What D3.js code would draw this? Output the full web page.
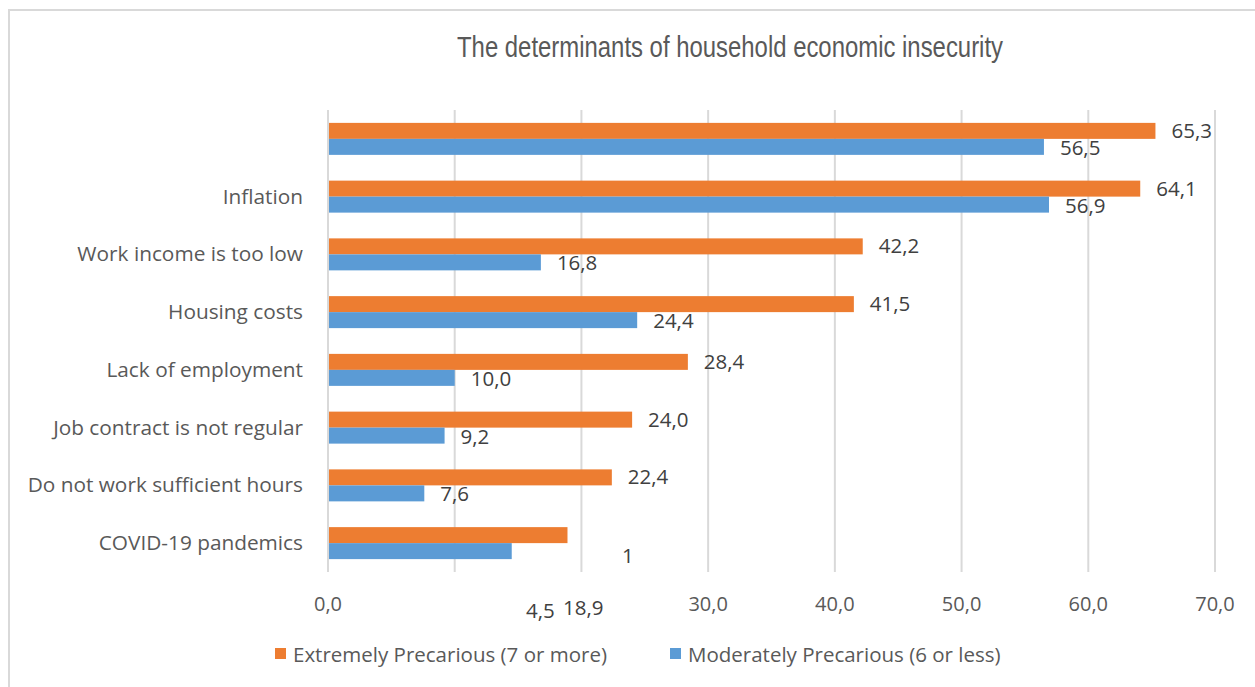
<!DOCTYPE html>
<html>
<head>
<meta charset="utf-8">
<script src="https://cdn.jsdelivr.net/npm/d3@7"></script>
<style>
  html, body { margin: 0; padding: 0; background: #fff; }
  svg { display: block; }
</style>
</head>
<body>
<svg id="chart" width="1255" height="687"></svg>
<script>
// Categories, top to bottom (first row has no label)
const categories = ["", "Inflation", "Work income is too low", "Housing costs",
  "Lack of employment", "Job contract is not regular",
  "Do not work sufficient hours", "COVID-19 pandemics"];
// Share of households (%) naming each determinant
const extremely = [65.3, 64.1, 42.2, 41.5, 28.4, 24.0, 22.4, 18.9];
const moderately = [56.5, 56.9, 16.8, 24.4, 10.0, 9.2, 7.6, 14.5];
const seriesNames = ["Extremely Precarious (7 or more)", "Moderately Precarious (6 or less)"];
const tickValues = [0, 10, 20, 30, 40, 50, 60, 70];
const tickLabels = ["0,0", "", "", "30,0", "40,0", "50,0", "60,0", "70,0"];
const title = "The determinants of household economic insecurity";

const colors = { ext: "#ED7D31", mod: "#5B9BD5" };
const svg = d3.select("#chart");
const W = 1255, H = 687;
const margin = { left: 328, right: 40, top: 110, bottom: 115 };

const fmt = v => d3.format(".1f")(v).replace(".", ",");
const font = "'Open Sans', 'Noto Sans', sans-serif";

// outer frame
svg.append("rect")
  .attr("x", 9).attr("y", 10).attr("width", W).attr("height", H)
  .attr("fill", "none").attr("stroke", "#d9d9d9").attr("stroke-width", 2);

// title
svg.append("text")
  .attr("x", 730).attr("y", 57)
  .attr("text-anchor", "middle")
  .attr("font-family", "'Liberation Sans Narrow', 'Liberation Sans', Arial, sans-serif")
  .attr("font-size", 29)
  .attr("fill", "#595959")
  .attr("textLength", 546).attr("lengthAdjust", "spacingAndGlyphs")
  .text(title);

const x = d3.scaleLinear().domain([0, 70]).range([margin.left, 1215]);
const y = d3.scaleBand().domain(d3.range(categories.length))
  .range([margin.top, 572]).paddingInner(0.446).paddingOuter(0.223);
const sub = d3.scaleBand().domain(["ext", "mod"]).range([0, y.bandwidth()]);

// gridlines
svg.append("g").selectAll("line").data(tickValues).join("line")
  .attr("x1", d => x(d)).attr("x2", d => x(d))
  .attr("y1", margin.top).attr("y2", 572)
  .attr("stroke", "#d9d9d9").attr("stroke-width", 2);

// x tick labels
svg.append("g").selectAll("text").data(tickValues).join("text")
  .attr("x", d => x(d)).attr("y", 611)
  .attr("text-anchor", "middle")
  .attr("font-family", font)
  .attr("font-size", 20).attr("fill", "#595959")
  .text((d, i) => tickLabels[i]);

// category labels
svg.append("g").selectAll("text").data(categories).join("text")
  .attr("x", 303).attr("y", (d, i) => y(i) + y.bandwidth() / 2 + 7)
  .attr("text-anchor", "end")
  .attr("font-family", font)
  .attr("font-size", 20.8).attr("fill", "#595959")
  .text(d => d);

// bars
const rows = categories.map((c, i) => ({ i, ext: extremely[i], mod: moderately[i] }));
const g = svg.append("g");
["ext", "mod"].forEach(key => {
  g.selectAll("rect." + key).data(rows).join("rect")
    .attr("class", key)
    .attr("x", x(0) + 1)
    .attr("y", d => y(d.i) + sub(key))
    .attr("width", d => x(d[key]) - x(0) - 1)
    .attr("height", sub.bandwidth())
    .attr("fill", colors[key]);
});

// value labels
const last = categories.length - 1;
const labels = svg.append("g")
  .attr("font-family", font).attr("font-size", 20.5).attr("fill", "#404040");
labels.selectAll("text.ext").data(rows.filter(d => d.i !== last)).join("text")
  .attr("class", "ext")
  .attr("x", d => x(d.ext) + 16)
  .attr("y", d => y(d.i) + sub("ext") + 15)
  .text(d => fmt(d.ext));
labels.selectAll("text.mod").data(rows.filter(d => d.i !== last)).join("text")
  .attr("class", "mod")
  .attr("x", d => x(d.mod) + 16)
  .attr("y", d => y(d.i) + sub("mod") + 16)
  .text(d => fmt(d.mod));

// last row: labels pushed down past the axis
const covid = rows[last];
const modTxt = fmt(covid.mod);
labels.append("text").attr("x", 622).attr("y", 563).text(modTxt.slice(0, 1));
labels.append("text").attr("x", 526).attr("y", 618).text(modTxt.slice(1));
labels.append("text").attr("x", 563).attr("y", 615).text(fmt(covid.ext));

// legend
const legend = svg.append("g")
  .attr("font-family", font).attr("font-size", 20.5).attr("fill", "#595959");
const legItems = [
  { name: seriesNames[0], color: colors.ext, x: 275 },
  { name: seriesNames[1], color: colors.mod, x: 670 }
];
legItems.forEach(d => {
  legend.append("rect").attr("x", d.x).attr("y", 648).attr("width", 11).attr("height", 11)
    .attr("fill", d.color);
  legend.append("text").attr("x", d.x + 18).attr("y", 662).text(d.name);
});
</script>
</body>
</html>
